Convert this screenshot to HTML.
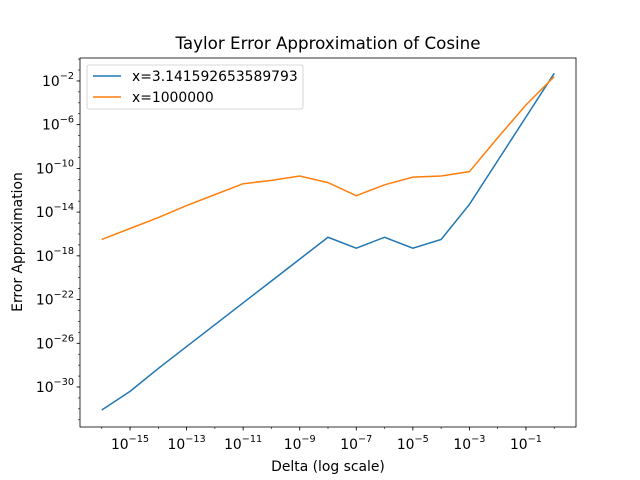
<!DOCTYPE html>
<html><head><meta charset="utf-8"><style>body{margin:0;background:#fff}svg{display:block;font-family:"DejaVu Sans","Liberation Sans",sans-serif}</style></head>
<body>
<svg id="chart" width="640" height="480" xmlns="http://www.w3.org/2000/svg"></svg>
<script>
const deltaExp = [-16,-15,-14,-13,-12,-11,-10,-9,-8,-7,-6,-5,-4,-3,-2,-1,0];
const seriesPiLog = [-32.1,-30.4,-28.3,-26.3,-24.3,-22.3,-20.3,-18.3,-16.3,-17.3,-16.3,-17.3,-16.5,-13.3,-9.3,-5.3,-1.3];
const seriesMillionLog = [-16.5,-15.5,-14.5,-13.4,-12.4,-11.4,-11.1,-10.7,-11.3,-12.5,-11.5,-10.8,-10.7,-10.3,-7.2,-4.2,-1.6];
const xTickExp = [-15,-13,-11,-9,-7,-5,-3,-1];
const yTickExp = [-30,-26,-22,-18,-14,-10,-6,-2];
const seriesNames = ["x=3.141592653589793","x=1000000"];
const colors = ["#1f77b4","#ff7f0e"];

const L=80,R=576,T=58,B=427;
const xMin=-16.77,xMax=0.77,yMin=-33.66,yMax=0.1;
const xs=v=>L+(v-xMin)/(xMax-xMin)*(R-L);
const ys=v=>B-(v-yMin)/(yMax-yMin)*(B-T);
const svg=document.getElementById('chart');
const NS="http://www.w3.org/2000/svg";
function mk(tag,attrs,parent){const e=document.createElementNS(NS,tag);for(const k in attrs)e.setAttribute(k,attrs[k]);(parent||svg).appendChild(e);return e;}
function txt(x,y,s,size,anchor,parent){const t=mk('text',{x:x,y:y,'font-size':size,'text-anchor':anchor,fill:'#000'},parent);t.innerHTML=s;return t;}

for(let e=Math.ceil(xMin);e<=xMax;e++){mk('line',{x1:xs(e),x2:xs(e),y1:B,y2:B+2,stroke:'#000','stroke-width':0.6});}
for(let e=Math.ceil(yMin);e<=yMax;e++){mk('line',{x1:L,x2:L-2,y1:ys(e),y2:ys(e),stroke:'#000','stroke-width':0.6});}

const xg=mk('g',{});


xTickExp.forEach(e=>{const x=xs(e);mk('line',{x1:x,x2:x,y1:B,y2:B+3.5,stroke:'#000','stroke-width':0.8},xg);
 const t=txt(x,B+22,'10<tspan dy="-7" font-size="9.7">−'+Math.abs(e)+'</tspan>',13.9,'middle',xg);
 
 });
const yg=mk('g',{});


yTickExp.forEach(e=>{const y=ys(e);mk('line',{x1:L,x2:L-3.5,y1:y,y2:y,stroke:'#000','stroke-width':0.8},yg);
 const t=txt(L-6,y+5,'10<tspan dy="-7" font-size="9.7">−'+Math.abs(e)+'</tspan>',13.9,'end',yg);
 
 });

[seriesPiLog,seriesMillionLog].forEach((s,i)=>{
 const p=mk('polyline',{points:deltaExp.map((d,j)=>xs(d)+','+ys(s[j])).join(' '),fill:'none',stroke:colors[i],'stroke-width':1.5});
 
 
});

mk('rect',{x:L,y:T,width:R-L,height:B-T,fill:'none',stroke:'#000','stroke-width':0.8});

const title=txt(328,49,'Taylor Error Approximation of Cosine',16.7,'middle');


const xl=txt(328,471,'Delta (log scale)',13.9,'middle');


const yl=txt(0,0,'Error Approximation',13.9,'middle');
yl.setAttribute('transform','translate(22,242) rotate(-90)');



const lg=mk('g',{});


mk('rect',{x:87,y:65,width:216,height:44,rx:2,fill:'#fff',stroke:'#ccc','stroke-width':0.8},lg);
seriesNames.forEach((n,i)=>{const y=76+i*21;
 mk('line',{x1:93,x2:121,y1:y,y2:y,stroke:colors[i],'stroke-width':1.5},lg);
 const t=txt(132,y+5,n,13.9,'start',lg);
 
 });
</script>
</body></html>
